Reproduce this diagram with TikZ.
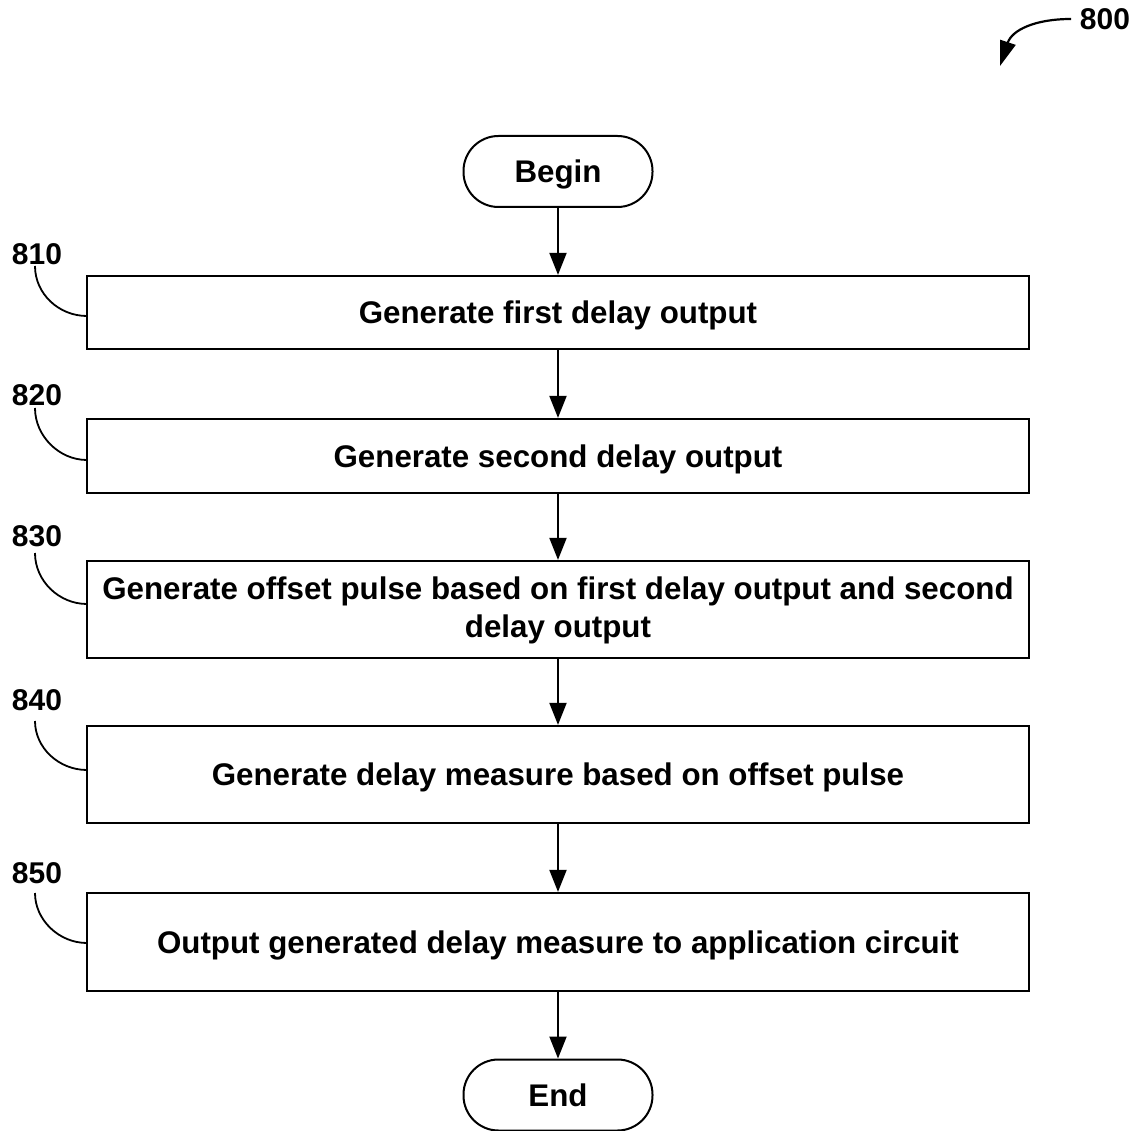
\documentclass[tikz,border=0pt]{standalone}
\usepackage{fontspec}
\setmainfont{Liberation Sans}
\usetikzlibrary{arrows.meta}
\begin{document}
\begin{tikzpicture}[x=1pt,y=-1pt,
  txt/.style={font=\fontsize{31.3}{38}\selectfont\bfseries},
  one/.style={text height=22.5pt, text depth=0pt},
  stepbox/.style={draw, line width=2.2pt, minimum width=942pt, inner sep=0pt, align=center, txt},
  term/.style={draw, line width=2pt, rounded corners=35pt, minimum width=189pt, minimum height=71pt, inner sep=0pt, txt, one},
  flow/.style={line width=2pt, -{Triangle[length=22pt,width=17pt]}},
  lead/.style={line width=1.8pt},
  lbl/.style={font=\fontsize{30}{36}\selectfont\bfseries, inner sep=0pt}
]
\useasboundingbox (0,0) rectangle (1141,1131);

\node[term] (begin) at (558,171.5) {Begin};
\node[stepbox, one, minimum height=73pt] (b1) at (558,312.5) {Generate first delay output};
\node[stepbox, one, minimum height=74pt] (b2) at (558,456) {Generate second delay output};
\node[stepbox, minimum height=97pt, text depth=4pt] (b3) at (558,609.5) {Generate offset pulse based on first delay output and second\\delay output};
\node[stepbox, one, minimum height=97pt] (b4) at (558,774.5) {Generate delay measure based on offset pulse};
\node[stepbox, one, minimum height=98pt] (b5) at (558,942) {Output generated delay measure to application circuit};
\node[term] (end) at (558,1095) {End};

\draw[flow] (begin) -- (b1);
\draw[flow] (b1) -- (b2);
\draw[flow] (b2) -- (b3);
\draw[flow] (b3) -- (b4);
\draw[flow] (b4) -- (b5);
\draw[flow] (b5) -- (end);

% reference labels
\node[lbl] (l1) at (37,254) {810};
\node[lbl] (l2) at (37,395) {820};
\node[lbl] (l3) at (37,536) {830};
\node[lbl] (l4) at (37,700) {840};
\node[lbl] (l5) at (37,873) {850};

\coordinate (s1) at (35,266);
\coordinate (s2) at (35,408);
\coordinate (s3) at (35,553);
\coordinate (s4) at (35,721);
\coordinate (s5) at (35,893);
\coordinate (e1) at (87,316);
\coordinate (e2) at (87,460);
\coordinate (e3) at (87,604);
\coordinate (e4) at (87,770);
\coordinate (e5) at (87,943);

\draw[lead] (s1) .. controls +(0,28) and +(-28,0) .. (e1);
\draw[lead] (s2) .. controls +(0,28) and +(-28,0) .. (e2);
\draw[lead] (s3) .. controls +(0,28) and +(-28,0) .. (e3);
\draw[lead] (s4) .. controls +(0,27) and +(-28,0) .. (e4);
\draw[lead] (s5) .. controls +(0,27) and +(-28,0) .. (e5);

% figure number
\node[lbl] (fig) at (1105,19) {800};
\coordinate (fs) at (1071,19);
\coordinate (ft) at (1000,66);
\draw[line width=2.2pt, -{Triangle[length=25pt,width=16pt]}] (fs) .. controls (1035,19) and (1012,30) .. (ft);
\end{tikzpicture}
\end{document}
